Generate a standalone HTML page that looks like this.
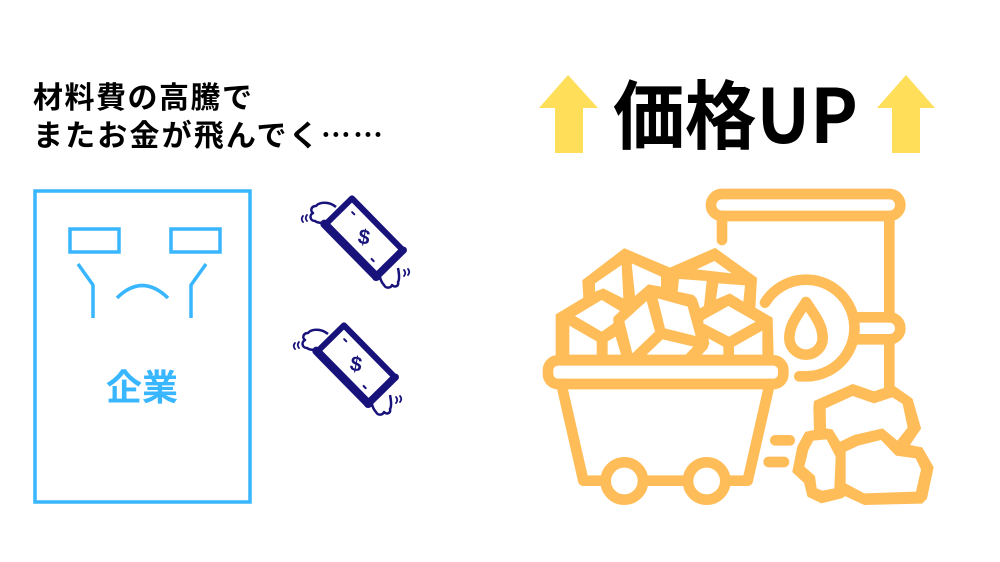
<!DOCTYPE html>
<html><head><meta charset="utf-8"><style>
html,body{margin:0;padding:0;background:#fff;}
svg{display:block;}
</style></head><body>
<svg width="1000" height="562" viewBox="0 0 1000 562" xmlns="http://www.w3.org/2000/svg">
<rect width="1000" height="562" fill="#fff"/>

<!-- top-left text -->
<text x="33" y="108" font-family="'Noto Sans CJK JP',sans-serif" font-weight="700" font-size="30" fill="#000" textLength="219" lengthAdjust="spacing">材料費の高騰で</text>
<text x="33" y="146" font-family="'Noto Sans CJK JP',sans-serif" font-weight="700" font-size="30" fill="#000" textLength="350" lengthAdjust="spacing">またお金が飛んでく……</text>

<!-- company box -->
<g fill="none" stroke="#38B6FF" stroke-width="3.5">
  <rect x="35" y="191" width="215" height="311"/>
  <rect x="70" y="229" width="49" height="23"/>
  <rect x="171" y="229" width="49" height="23"/>
  <polyline points="78,264 93,285 93,318"/>
  <polyline points="206,264 191,285 191,318"/>
  <path d="M117,298 Q142,273 168,298"/>
</g>
<text x="142" y="400" text-anchor="middle" font-family="'Liberation Sans','Noto Sans CJK JP',sans-serif" font-weight="700" font-size="36" fill="#38B6FF">企業</text>

<!-- money bills -->
<defs>
  <g id="bill">
    <path d="M-28,-30 C-35,-36 -45,-35 -48,-31 C-53,-31 -54,-26 -51,-24 C-55,-22 -54,-16 -49,-16 C-45,-13 -38,-14 -34,-18" fill="#fff" stroke="#18137a" stroke-width="2.5" stroke-linejoin="round"/>
    <path d="M16,28 C14,35 16,44 20,48 C22,52 27,51 28,48 C31,51 35,49 34,45 C36,42 35,36 34,31" fill="#fff" stroke="#18137a" stroke-width="2.5" stroke-linejoin="round"/>
    <path d="M-61,-21 q-2.5,3 0,6 M-57,-22 q-2.5,3 0,6" fill="none" stroke="#18137a" stroke-width="1.8" stroke-linecap="round"/>
    <path d="M40,33 q2.5,3 0,6 M44,32 q2.5,3 0,6" fill="none" stroke="#18137a" stroke-width="1.8" stroke-linecap="round"/>
    <g transform="rotate(45.5)">
      <rect x="-36" y="-18.5" width="72" height="37" fill="#fff" stroke="#18137a" stroke-width="6" stroke-linejoin="round"/>
      <line x1="-37" y1="19" x2="37" y2="19" stroke="#18137a" stroke-width="8.5" stroke-linecap="round"/>
      <line x1="37" y1="-19" x2="37" y2="20" stroke="#18137a" stroke-width="7" stroke-linecap="round"/>
      <line x1="-26" y1="-9" x2="-23" y2="-9" stroke="#18137a" stroke-width="2" stroke-linecap="round"/>
      <line x1="21" y1="10" x2="24" y2="10" stroke="#18137a" stroke-width="2" stroke-linecap="round"/>
      <text x="0" y="7" text-anchor="middle" font-family="'Liberation Sans',sans-serif" font-weight="700" font-size="21" fill="#18137a" transform="rotate(-35)">$</text>
    </g>
  </g>
</defs>
<use href="#bill" transform="translate(364,237)"/>
<use href="#bill" transform="translate(356,364)"/>

<!-- title -->
<polygon points="568,75 598,108 583,108 583,153 555,153 555,108 539,108" fill="#FFDE59"/>
<polygon points="906,75 935,108 920,108 920,153 892,153 892,108 877,108" fill="#FFDE59"/>
<text x="613" y="143" font-family="'Noto Sans CJK JP',sans-serif" font-weight="700" font-size="75" fill="#000" textLength="245" lengthAdjust="spacingAndGlyphs">価格UP</text>

<!-- mining icon -->
<svg x="530" y="180" width="420" height="330" viewBox="0 0 1260 990">
  <g fill="none" stroke="#FFBD59" stroke-width="32" stroke-linecap="round" stroke-linejoin="round">
    <rect x="543" y="42" width="568" height="66" rx="33"/>
    <line x1="576" y1="108" x2="576" y2="180"/>
    <line x1="1078" y1="108" x2="1078" y2="412"/>
    <path d="M969,412 L1078,412 A33,33 0 0 1 1078,478 L969,478" stroke-linecap="butt"/>
    <line x1="1078" y1="478" x2="1078" y2="630"/>
    <path d="M705,368 A145,145 0 1 1 828,589 L808,589"/>
    <path d="M828,366 C810,396 778,430 778,474 A50,50 0 0 0 878,474 C878,430 846,396 828,366 Z"/>
    <line x1="736" y1="781" x2="779" y2="781"/>
    <line x1="716" y1="846" x2="762" y2="846"/>
    <polyline points="94,612 160,902 653,902 719,612"/>
    <rect x="54" y="541" width="706" height="71" rx="30"/>
  </g>
  <g fill="#fff" stroke="#FFBD59" stroke-width="32">
    <circle cx="283" cy="903" r="56"/>
    <circle cx="530" cy="903" r="56"/>
  </g>
  <polygon points="80,528 80,405 163,355 160,302 283,208 420,266 555,207 678,295 673,385 725,415 728,528" fill="#FFBD59" stroke="#FFBD59" stroke-width="6" stroke-linejoin="round"/>
  <g fill="#fff">
    <polygon points="195,310 275,255 280,355 220,325 195,335"/>
    <polygon points="305,250 393,290 393,320 355,313 315,348"/>
    <polygon points="447,297 530,303 522,378 510,385 500,355 490,345 443,335"/>
    <polygon points="500,268 553,243 605,280"/>
    <polygon points="565,310 645,316 640,365 600,340 558,358"/>
    <polygon points="135,408 215,360 270,393 250,412 250,430 215,455"/>
    <polygon points="118,437 200,484 200,524 118,524"/>
    <polygon points="233,484 257,470 273,524 233,524"/>
    <polygon points="283,424 350,363 375,455 307,520"/>
    <polygon points="383,355 473,380 497,468 405,445"/>
    <polygon points="398,478 490,500 467,524 350,524"/>
    <polygon points="520,420 595,378 677,425 597,470 520,430"/>
    <polygon points="535,475 580,500 580,524 515,524 532,506 538,490"/>
    <polygon points="612,500 697,452 697,524 612,524"/>
  </g>
  <polygon points="855,665 968,615 1032,637 1088,618 1145,658 1170,745 1135,797 1175,805 1208,862 1188,955 1175,968 1003,972 945,945 935,952 875,967 835,948 825,907 790,875 805,800 828,758 855,752 853,680" fill="#FFBD59" stroke="#FFBD59" stroke-width="6" stroke-linejoin="round"/>
  <g fill="#fff">
    <polygon points="887,685 968,648 1032,670 1087,652 1118,672 1133,743 1102,782 1058,745 972,765 930,785 907,748 888,745"/>
    <polygon points="947,815 985,797 1053,780 1098,827 1157,835 1173,868 1158,935 1003,940 947,910"/>
    <polygon points="850,782 890,778 917,830 913,925 878,932 860,925 855,888 823,860 835,810"/>
  </g>
</svg>
</svg>
</body></html>
